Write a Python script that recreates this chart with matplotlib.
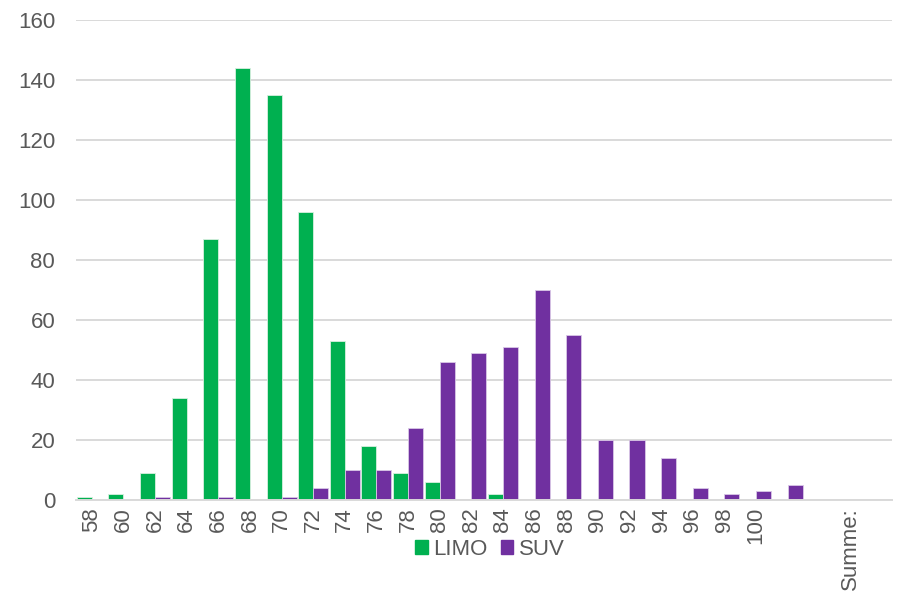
import numpy as np
import matplotlib.pyplot as plt
from matplotlib.patches import Patch

plt.rcParams['font.family'] = ['Liberation Sans', 'DejaVu Sans']

# bin labels (histogram classes), last ones are the overflow and sum rows
bins = [str(b) for b in range(58, 101, 2)] + ["", "", "Summe:"]

limo = [1, 2, 9, 34, 87, 144, 135, 96, 53, 18, 9, 6, 0, 2,
        0, 0, 0, 0, 0, 0, 0, 0, 0, 0, 0]
suv = [0, 0, 1, 0, 1, 0, 1, 4, 10, 10, 24, 46, 49, 51,
       70, 55, 20, 20, 14, 4, 2, 3, 5, 0, 0]

green = '#00B050'
purple = '#7030A0'
txt = '#595959'

fig = plt.figure(figsize=(9.04, 6.03), dpi=100)
ax = fig.add_axes([0.0841, 0.1708, 0.9026, 0.796])

x = np.arange(len(bins))
w = 0.475
ax.bar(x - w/2, limo, width=w, color=green, edgecolor='#D8F0E0', linewidth=0.6, zorder=3)
ax.bar(x + w/2, suv, width=w, color=purple, edgecolor='#D9C8E6', linewidth=0.6, zorder=3)

ax.set_ylim(0, 160)
ax.set_yticks(range(0, 161, 20))
ax.set_xlim(-0.5, 25.3)
ax.set_xticks(x)
ax.set_xticklabels(bins, rotation=90, va='top')

ax.grid(axis='y', color='#D9D9D9', linewidth=1.4, zorder=0)
ax.set_axisbelow(True)
for s in ['top', 'right', 'left']:
    ax.spines[s].set_visible(False)
ax.spines['bottom'].set_color('#D9D9D9')
ax.spines['bottom'].set_linewidth(1.4)
ax.spines['bottom'].set_zorder(4)

ax.tick_params(axis='both', length=0, labelsize=16, labelcolor=txt)
ax.tick_params(axis='y', pad=15)
ax.tick_params(axis='x', pad=5)

handles = [Patch(color=green, label='LIMO'), Patch(color=purple, label='SUV')]
fig.legend(handles=handles, loc='center', bbox_to_anchor=(0.542, 0.089), ncol=2,
           frameon=False, fontsize=16, labelcolor=txt, handlelength=0.55,
           handleheight=0.55, handletextpad=0.25, columnspacing=0.6,
           borderpad=0, borderaxespad=0)

fig.savefig('out.png', dpi=100)
